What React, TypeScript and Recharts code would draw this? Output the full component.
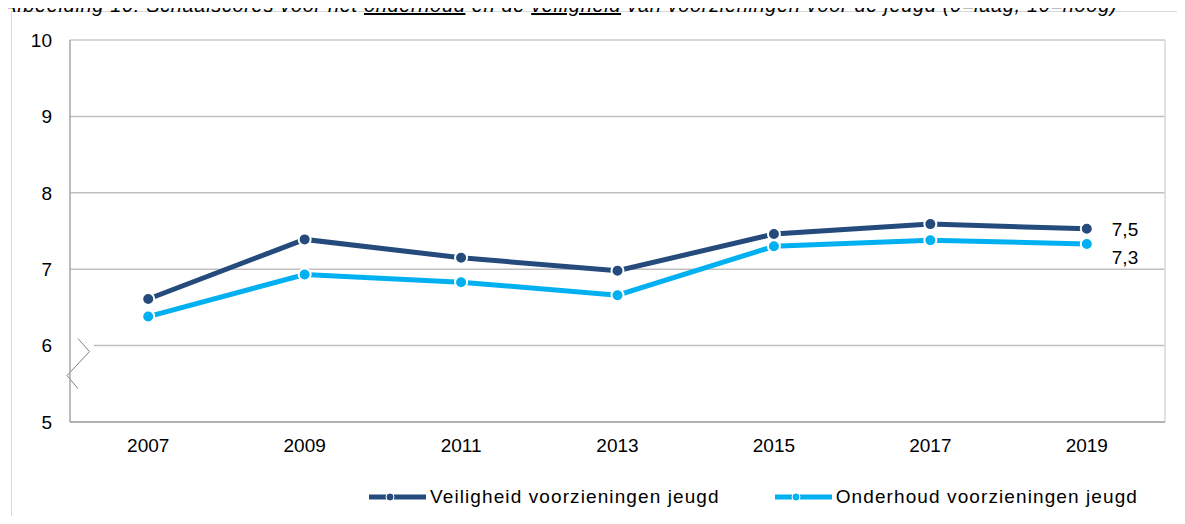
import React from 'react';
import { LineChart, Line, XAxis, YAxis, CartesianGrid, Legend, LabelList, Customized } from 'recharts';

const years = ['2007', '2009', '2011', '2013', '2015', '2017', '2019'];
const veiligheid = [6.61, 7.39, 7.15, 6.98, 7.46, 7.59, 7.53];
const onderhoud = [6.38, 6.93, 6.83, 6.66, 7.3, 7.38, 7.33];
const yTicks = [5, 6, 7, 8, 9, 10];

const DARK = '#254A7C';
const LIGHT = '#00B0F0';
const FONT = '"Liberation Sans", Arial, sans-serif';

const W = 1185;
const H = 524;
const M = { top: 40, right: 20, bottom: 72, left: 0 };
const Y_AXIS_W = 70;
const X_AXIS_H = 30;
const HALF_BAND = (W - M.right - M.left - Y_AXIS_W) / years.length / 2;

const data = years.map((year, i) => ({ year, veiligheid: veiligheid[i], onderhoud: onderhoud[i] }));

const fmt = (v: number) => v.toFixed(1).replace('.', ',');

// plot-box right edge + the zigzag axis break between 5 and 6
const Decor = () => {
  const left = M.left + Y_AXIS_W;
  const top = M.top;
  const right = W - M.right;
  const bottom = H - M.bottom - X_AXIS_H;
  const unit = (bottom - top) / 5;
  const y6 = bottom - unit;
  return (
    <g>
      <line x1={right} y1={top} x2={right} y2={bottom} stroke="#D9D9D9" strokeWidth={1.5} />
      <line x1={left} y1={top} x2={right} y2={top} stroke="#D9D9D9" strokeWidth={1.5} />
      <rect x={left - 4} y={y6 - 9} width={28} height={51} fill="#fff" />
      <polyline
        points={`${left + 8},${y6 - 7} ${left + 19.5},${y6 + 6} ${left - 3},${y6 + 30} ${left + 8},${y6 + 43}`}
        fill="none"
        stroke="#808080"
        strokeWidth={1}
      />
    </g>
  );
};

const endLabel = (dy: number) => (props: any) => {
  const { x, y, index, value } = props;
  if (index !== years.length - 1) return null;
  return (
    <text x={x + 25} y={y + dy} fontSize={19} fill="#000" fontFamily={FONT} dominantBaseline="central">
      {fmt(value)}
    </text>
  );
};

const LegendContent = () => {
  const items = [
    { name: 'Veiligheid voorzieningen jeugd', color: DARK },
    { name: 'Onderhoud voorzieningen jeugd', color: LIGHT },
  ];
  return (
    <div style={{ display: 'flex', alignItems: 'center', fontFamily: FONT, fontSize: 19, color: '#000', letterSpacing: 1.1 }}>
      {items.map((it, i) => (
        <div key={it.name} style={{ display: 'flex', alignItems: 'center', marginRight: i === 0 ? 54 : 0 }}>
          <svg width={60} height={12} style={{ marginRight: 2 }}>
            <line x1={1} y1={6} x2={18} y2={6} stroke={it.color} strokeWidth={5} />
            <line x1={26} y1={6} x2={58} y2={6} stroke={it.color} strokeWidth={5} />
            <circle cx={22} cy={6} r={4} fill={it.color} stroke="#fff" strokeWidth={1} />
          </svg>
          <span>{it.name}</span>
        </div>
      ))}
    </div>
  );
};

export default function App() {
  return (
    <div style={{ position: 'relative', margin: -8, width: W, height: H, overflow: 'hidden', background: '#fff', fontFamily: FONT }}>
      <div style={{ position: 'absolute', left: 11, top: 11, width: 1300, height: 700, border: '1.5px solid #D9D9D9' }} />
      <div style={{ position: 'absolute', left: 3, top: -6, lineHeight: '22px', fontSize: 20, fontStyle: 'italic', whiteSpace: 'nowrap', letterSpacing: 0.65, color: '#000' }}>
        Afbeelding 10: Schaalscores voor het <u>onderhoud</u> en de <u>veiligheid</u> van voorzieningen voor de jeugd (0=laag, 10=hoog)
      </div>
      <div style={{ position: 'absolute', left: 0, top: 0 }}>
        <LineChart width={W} height={H} data={data} margin={M}>
          <CartesianGrid vertical={false} stroke="#BFBFBF" strokeWidth={1.5} />
          <XAxis
            dataKey="year"
            height={X_AXIS_H}
            padding={{ left: HALF_BAND, right: HALF_BAND }}
            tickSize={0}
            tickMargin={17}
            axisLine={{ stroke: '#A6A6A6', strokeWidth: 1.5 }}
            tickLine={false}
            tick={{ fill: '#000', fontSize: 19, fontFamily: FONT }}
          />
          <YAxis
            width={Y_AXIS_W}
            domain={[5, 10]}
            ticks={yTicks}
            tickSize={0}
            tickMargin={18}
            axisLine={{ stroke: '#A6A6A6', strokeWidth: 1.5 }}
            tickLine={false}
            tick={{ fill: '#000', fontSize: 19, fontFamily: FONT }}
          />
          <Line
            type="linear"
            dataKey="veiligheid"
            name="Veiligheid voorzieningen jeugd"
            stroke={DARK}
            strokeWidth={5}
            dot={{ r: 6, fill: DARK, stroke: '#fff', strokeWidth: 2 }}
            activeDot={false}
            isAnimationActive={false}
          >
            <LabelList dataKey="veiligheid" content={endLabel(1)} />
          </Line>
          <Line
            type="linear"
            dataKey="onderhoud"
            name="Onderhoud voorzieningen jeugd"
            stroke={LIGHT}
            strokeWidth={5}
            dot={{ r: 6, fill: LIGHT, stroke: '#fff', strokeWidth: 2 }}
            activeDot={false}
            isAnimationActive={false}
          >
            <LabelList dataKey="onderhoud" content={endLabel(14)} />
          </Line>
          <Customized component={<Decor />} />
          <Legend content={<LegendContent />} wrapperStyle={{ position: 'absolute', left: 368, top: 486, width: 'auto', height: 0 }} />
        </LineChart>
      </div>
    </div>
  );
}
